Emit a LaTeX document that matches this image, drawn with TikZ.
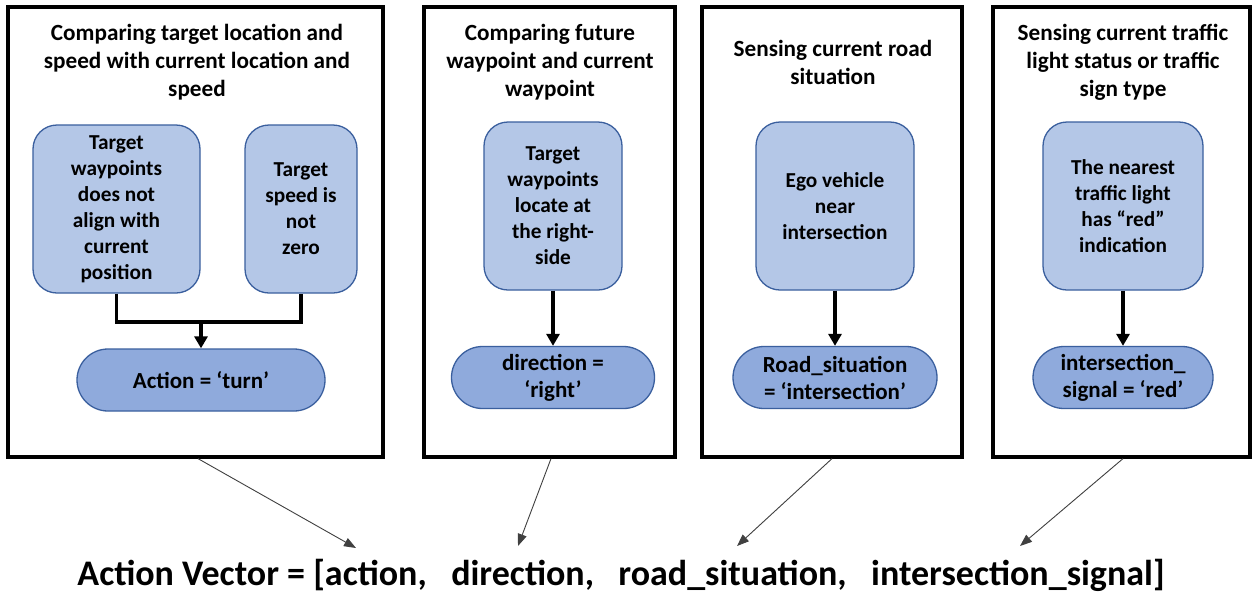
\documentclass[tikz,border=0pt]{standalone}
\usepackage{fontspec}
\setmainfont{Carlito}
\usetikzlibrary{arrows.meta}
\definecolor{lightfill}{HTML}{B4C7E7}
\definecolor{ovalfill}{HTML}{8FAADC}
\definecolor{blueborder}{HTML}{3A5F9E}
\begin{document}
\begin{tikzpicture}[x=1pt,y=-1pt,
  outerbox/.style={draw=black,line width=3.2pt,fill=white,minimum height=450pt,inner sep=0pt},
  titletext/.style={align=center,font=\fontsize{23.2}{28}\selectfont\bfseries,inner sep=0pt},
  condbox/.style={draw=blueborder,line width=1.3pt,fill=lightfill,rounded corners=24pt,minimum height=168pt,inner sep=0pt,align=center,font=\fontsize{21.3}{26}\selectfont\bfseries},
  resultbox/.style={draw=blueborder,line width=1.3pt,fill=ovalfill,rounded corners=31pt,minimum height=62pt,inner sep=0pt,align=center,font=\fontsize{23}{27}\selectfont\bfseries},
  flow/.style={line width=3.2pt,draw=black},
  flowarrow/.style={flow,-{Triangle[length=12pt,width=13pt]}},
  thinarrow/.style={draw=black!75,line width=0.9pt,-{Triangle[length=12pt,width=9pt]}}
]
\useasboundingbox (0,0) rectangle (1252,595);
\fill[white] (0,0) rectangle (1252,595);

% outer boxes
\node[outerbox,minimum width=375pt] (box1) at (195.5,232) {};
\node[outerbox,minimum width=251pt] (box2) at (549.5,232) {};
\node[outerbox,minimum width=260pt] (box3) at (832,232) {};
\node[outerbox,minimum width=257pt] (box4) at (1121.5,232) {};

% titles
\node[titletext] (t1) at (197,62) {Comparing target location and\\speed with current location and\\speed};
\node[titletext] (t2) at (550,62) {Comparing future\\waypoint and current\\waypoint};
\node[titletext] (t3) at (833,62) {Sensing current road\\situation};
\node[titletext] (t4) at (1123,62) {Sensing current traffic\\light status or traffic\\sign type};

% box 1
\node[condbox,minimum width=167pt] (a1) at (116.5,209) {Target\\waypoints\\does not\\align with\\current\\position};
\node[condbox,minimum width=112pt] (a2) at (301,209) {Target\\speed is\\not\\zero};
\node[resultbox,minimum width=248pt] (o1) at (201,380) {Action = ‘turn’};
\coordinate (j1) at (201,322);
\draw[flow] (a1.south) |- (j1) -| (a2.south);
\draw[flowarrow] (j1) -- (o1.north);

% box 2
\node[condbox,minimum width=138pt] (b1) at (553,206) {Target\\waypoints\\locate at\\the right-\\side};
\node[resultbox,minimum width=203pt] (o2) at (553,377.5) {direction =\\‘right’};
\draw[flowarrow] (b1.south) -- (o2.north);

% box 3
\node[condbox,minimum width=158pt] (c1) at (835,206) {Ego vehicle\\near\\intersection};
\node[resultbox,minimum width=204pt] (o3) at (835,377.5) {Road\_situation\\= ‘intersection’};
\draw[flowarrow] (c1.south) -- (o3.north);

% box 4
\node[condbox,minimum width=160pt] (d1) at (1123,206) {The nearest\\traffic light\\has “red”\\indication};
\node[resultbox,minimum width=180pt] (o4) at (1123,377.5) {intersection\_\\signal = ‘red’};
\draw[flowarrow] (d1.south) -- (o4.north);

% action vector
\node[inner sep=0pt,font=\fontsize{36}{40}\selectfont\bfseries] (vec) at (621,575) {Action Vector = [action,\ \ \ direction,\ \ \ road\_situation,\ \ \ intersection\_signal]};

\coordinate (e1) at (356,548);
\coordinate (e2) at (518,546);
\coordinate (e3) at (737,546);
\coordinate (e4) at (1020,546);
\draw[thinarrow] ([xshift=2.5pt]box1.south) -- (e1);
\draw[thinarrow] ([xshift=1.5pt]box2.south) -- (e2);
\draw[thinarrow] (box3.south) -- (e3);
\draw[thinarrow] ([xshift=1.5pt]box4.south) -- (e4);
\end{tikzpicture}
\end{document}
